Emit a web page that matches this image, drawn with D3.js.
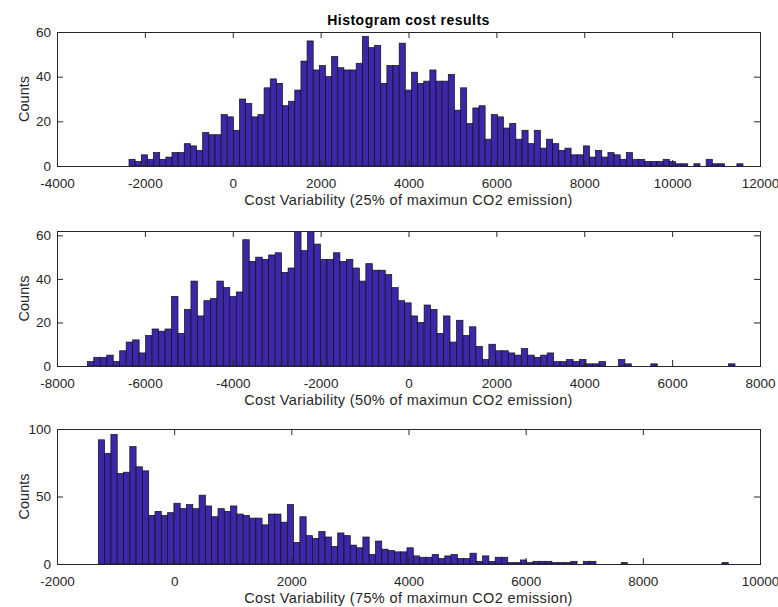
<!DOCTYPE html>
<html>
<head>
<meta charset="utf-8">
<script src="https://cdn.jsdelivr.net/npm/d3@7"></script>
<style>
  body { margin: 0; background: #fff; }
  svg { display: block; font-family: "Liberation Sans", Arial, sans-serif; }
</style>
</head>
<body>
<svg id="chart-svg" width="778" height="607"></svg>
<script>
// Data
const title = "Histogram cost results";

// histogram counts, 100 bins each
const counts25 = [3, 2, 5, 3, 6, 3, 4, 6, 6, 10, 9, 7, 15, 14, 14, 23, 22, 16, 30, 28,
  22, 23, 35, 39, 37, 27, 29, 34, 47, 56, 43, 45, 40, 49, 44, 43, 43, 46, 58, 53,
  54, 37, 45, 45, 55, 34, 42, 37, 38, 43, 38, 38, 41, 25, 35, 19, 26, 27, 12, 23,
  22, 17, 19, 12, 16, 10, 16, 8, 12, 10, 7, 8, 5, 5, 9, 4, 7, 4, 6, 5,
  3, 6, 3, 3, 2, 2, 2, 3, 2, 1, 1, 0, 1, 0, 3, 1, 1, 0, 0, 1];
const counts50 = [2, 4, 4, 5, 2, 7, 11, 12, 6, 14, 17, 16, 17, 32, 15, 26, 39, 23, 30, 31,
  39, 36, 32, 34, 58, 48, 50, 49, 51, 52, 43, 45, 62, 53, 62, 56, 49, 49, 52, 48,
  49, 45, 39, 47, 44, 44, 42, 36, 30, 29, 23, 20, 28, 26, 15, 23, 11, 21, 14, 18,
  9, 3, 10, 7, 7, 6, 5, 8, 5, 4, 5, 6, 2, 2, 3, 2, 3, 1, 1, 2,
  0, 0, 3, 1, 0, 0, 0, 1, 0, 0, 0, 0, 0, 0, 0, 0, 0, 0, 0, 1];
const counts75 = [92, 82, 96, 67, 68, 87, 72, 69, 36, 39, 36, 38, 45, 41, 44, 41, 51, 43, 35, 41,
  39, 43, 37, 36, 34, 34, 29, 37, 37, 31, 44, 16, 35, 21, 19, 24, 20, 13, 23, 21,
  14, 12, 20, 7, 17, 11, 10, 9, 9, 12, 6, 5, 5, 7, 4, 6, 7, 4, 4, 8,
  2, 6, 2, 5, 5, 1, 1, 3, 1, 2, 2, 2, 1, 1, 1, 2, 0, 2, 2, 0,
  0, 0, 0, 1, 0, 0, 0, 0, 0, 0, 0, 0, 0, 0, 0, 0, 0, 0, 0, 1];

// range covered by the bins (first edge, last edge)
const binRange25 = [-2361, 11613];
const binRange50 = [-7310, 7431];
const binRange75 = [-1295, 9458];

// axis limits and ticks
const xLim25 = [-4000, 12000];
const xLim50 = [-8000, 8000];
const xLim75 = [-2000, 10000];
const yLim25 = [0, 60];
const yLim50 = [0, 62];
const yLim75 = [0, 100];
const xTicks25 = [-4000, -2000, 0, 2000, 4000, 6000, 8000, 10000, 12000];
const xTicks50 = [-8000, -6000, -4000, -2000, 0, 2000, 4000, 6000, 8000];
const xTicks75 = [-2000, 0, 2000, 4000, 6000, 8000, 10000];
const yTicks25 = [0, 20, 40, 60];
const yTicks50 = [0, 20, 40, 60];
const yTicks75 = [0, 50, 100];

const xLabels = [
  "Cost Variability (25% of maximun CO2 emission)",
  "Cost Variability (50% of maximun CO2 emission)",
  "Cost Variability (75% of maximun CO2 emission)",
];

const barColor = "#3e26a8";
const axisColor = "#262626";

const svg = d3.select("#chart-svg");

// dimensioner
const left = 57, right = 760;
const panels = [
  { top: 32, bottom: 166, counts: counts25, range: binRange25, xLim: xLim25, yLim: yLim25, xTicks: xTicks25, yTicks: yTicks25, label: xLabels[0] },
  { top: 231, bottom: 366, counts: counts50, range: binRange50, xLim: xLim50, yLim: yLim50, xTicks: xTicks50, yTicks: yTicks50, label: xLabels[1] },
  { top: 429, bottom: 564, counts: counts75, range: binRange75, xLim: xLim75, yLim: yLim75, xTicks: xTicks75, yTicks: yTicks75, label: xLabels[2] },
];

// plain hyphen minus like matlab
const fmt = (d) => String(d);

function renderPanel(p) {
  const x = d3.scaleLinear().domain(p.xLim).range([left, right]);
  const y = d3.scaleLinear().domain(p.yLim).range([p.bottom, p.top]);
  const w = (p.range[1] - p.range[0]) / p.counts.length;

  const g = svg.append("g");

  // clip so bars that hit the top are cut off like in matlab
  const clipId = "clip" + p.top;
  g.append("clipPath").attr("id", clipId)
    .append("rect")
    .attr("x", left).attr("y", p.top)
    .attr("width", right - left).attr("height", p.bottom - p.top);

  g.append("g")
    .attr("clip-path", `url(#${clipId})`)
    .selectAll(".bar")
    .data(p.counts)
    .enter()
    .append("rect")
    .attr("class", "bar")
    .attr("x", (d, i) => x(p.range[0] + i * w))
    .attr("width", (d, i) => x(p.range[0] + (i + 1) * w) - x(p.range[0] + i * w))
    .attr("y", (d) => y(d))
    .attr("height", (d) => p.bottom - y(d))
    .attr("fill", barColor)
    .attr("stroke", "#111")
    .attr("stroke-width", 0.7);

  // akser
  g.append("g")
    .attr("transform", `translate(0,${p.bottom})`)
    .call(d3.axisBottom(x).tickValues(p.xTicks).tickSize(-6).tickPadding(12).tickFormat(fmt));
  g.append("g")
    .attr("transform", `translate(0,${p.top})`)
    .call(d3.axisTop(x).tickValues(p.xTicks).tickSize(-6).tickFormat(""));
  g.append("g")
    .attr("transform", `translate(${left},0)`)
    .call(d3.axisLeft(y).tickValues(p.yTicks).tickSize(-6).tickPadding(6).tickFormat(fmt));
  g.append("g")
    .attr("transform", `translate(${right},0)`)
    .call(d3.axisRight(y).tickValues(p.yTicks).tickSize(-6).tickFormat(""));

  g.selectAll(".domain").remove();
  g.selectAll(".tick line").attr("stroke", axisColor);
  g.selectAll(".tick text")
    .attr("fill", axisColor)
    .attr("font-size", 13.5)
    .attr("font-family", "Liberation Sans, Arial, sans-serif");

  // boks
  g.append("rect")
    .attr("x", left).attr("y", p.top)
    .attr("width", right - left).attr("height", p.bottom - p.top)
    .attr("fill", "none")
    .attr("stroke", axisColor)
    .attr("stroke-width", 1)
    .attr("shape-rendering", "crispEdges");

  g.append("text")
    .attr("x", (left + right) / 2)
    .attr("y", p.bottom + 39)
    .attr("text-anchor", "middle")
    .attr("font-size", 14.5)
    .attr("letter-spacing", 0.35)
    .attr("fill", axisColor)
    .text(p.label);

  g.append("text")
    .attr("transform", `translate(29,${(p.top + p.bottom) / 2}) rotate(-90)`)
    .attr("text-anchor", "middle")
    .attr("font-size", 14.5)
    .attr("fill", axisColor)
    .text("Counts");
}

panels.forEach(renderPanel);

svg.append("text")
  .attr("x", (left + right) / 2)
  .attr("y", 25)
  .attr("text-anchor", "middle")
  .attr("font-size", 14)
  .attr("font-weight", "bold")
  .attr("letter-spacing", 0.5)
  .attr("fill", "#000")
  .text(title);
</script>
</body>
</html>
